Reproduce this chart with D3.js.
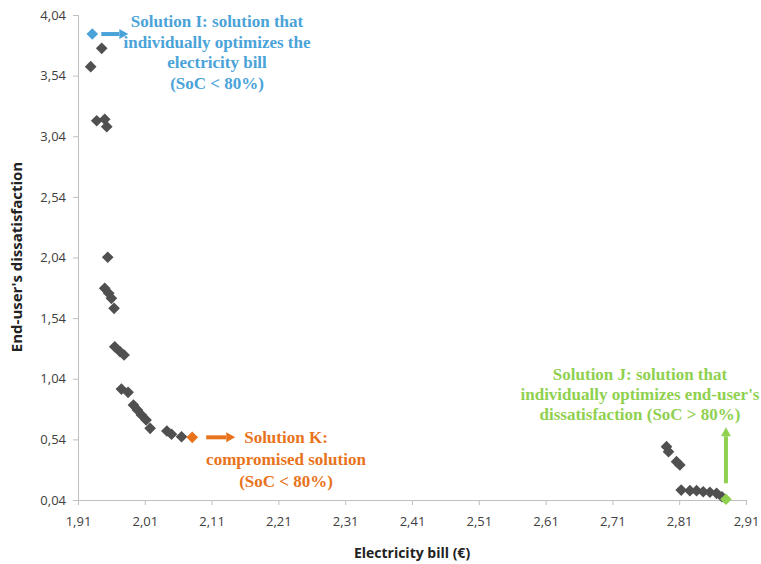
<!DOCTYPE html>
<html>
<head>
<meta charset="utf-8">
<script src="https://cdn.jsdelivr.net/npm/d3@7"></script>
<style>
  body { margin: 0; background: #fff; }
  svg { display: block; }
</style>
</head>
<body>
<svg width="761" height="564"></svg>
<script>
// Pareto front: electricity bill (€) vs end-user's dissatisfaction
const billValues = [1.9455, 1.929, 1.938, 1.950, 1.953, 1.9545, 1.950, 1.956, 1.960, 1.964,
    1.965, 1.973, 1.979, 1.975, 1.985, 1.993, 1.999, 2.005, 2.012, 2.018,
    2.043, 2.050, 2.065,
    2.791, 2.794, 2.806, 2.811, 2.813, 2.826, 2.836, 2.846, 2.856, 2.866, 2.874];
const dissatValues = [3.765, 3.614, 3.168, 3.180, 3.119, 2.042, 1.786, 1.745, 1.703, 1.621,
    1.304, 1.263, 1.236, 0.955, 0.928, 0.823, 0.782, 0.741, 0.700, 0.631,
    0.609, 0.582, 0.562,
    0.480, 0.438, 0.356, 0.329, 0.122, 0.117, 0.117, 0.108, 0.104, 0.095, 0.067];

// highlighted solutions
const solutionNames = ['I', 'K', 'J'];
const solutionBill = [1.9314, 2.081, 2.880];
const solutionDissat = [3.883, 0.557, 0.046];
const solutionColors = ['#4aa3d8', '#e8731c', '#8fd14f'];

const xTicks = [1.91, 2.01, 2.11, 2.21, 2.31, 2.41, 2.51, 2.61, 2.71, 2.81, 2.91];
const yTicks = [0.04, 0.54, 1.04, 1.54, 2.04, 2.54, 3.04, 3.54, 4.04];

const svg = d3.select('svg');
const x = d3.scaleLinear().domain([1.91, 2.91]).range([78, 746]);
const y = d3.scaleLinear().domain([0.04, 4.04]).range([500, 15]);
const fmt = d => d.toFixed(2).replace('.', ',');

// axes
const xAxis = svg.append('g').attr('transform', 'translate(0,500)')
    .call(d3.axisBottom(x).tickValues(xTicks).tickFormat(fmt).tickSize(5).tickPadding(12));
const yAxis = svg.append('g').attr('transform', 'translate(78,0)')
    .call(d3.axisLeft(y).tickValues(yTicks).tickFormat(fmt).tickSize(5).tickPadding(7));
[xAxis, yAxis].forEach(a => {
    a.selectAll('path, line').attr('stroke', '#bfbfbf');
    a.selectAll('text').attr('fill', '#404040')
        .style('font-family', '"Open Sans", sans-serif').style('font-size', '13px');
});

svg.append('text').attr('x', 412).attr('y', 558).attr('text-anchor', 'middle')
    .style('font-family', '"Open Sans", sans-serif').style('font-size', '14px')
    .style('font-weight', 'bold').attr('fill', '#222')
    .text('Electricity bill (€)');
svg.append('text').attr('transform', 'translate(22,257) rotate(-90)').attr('text-anchor', 'middle')
    .style('font-family', '"Open Sans", sans-serif').style('font-size', '15px')
    .style('font-weight', 'bold').attr('fill', '#222')
    .text("End-user's dissatisfaction");

// points
const diamond = d3.symbol(d3.symbolSquare, 68);
svg.append('g').selectAll('path').data(billValues)
    .enter().append('path')
    .attr('d', diamond)
    .attr('fill', '#505050')
    .attr('transform', (d, i) => `translate(${x(d)},${y(dissatValues[i])}) rotate(45)`);

svg.append('g').selectAll('path').data(solutionBill)
    .enter().append('path')
    .attr('d', diamond)
    .attr('fill', (d, i) => solutionColors[i])
    .attr('transform', (d, i) => `translate(${x(d)},${y(solutionDissat[i])}) rotate(45)`);

// arrows
function arrow(x1, y1, x2, y2, color) {
    const a = Math.atan2(y2 - y1, x2 - x1), head = 9, w = 5;
    const bx = x2 - head * Math.cos(a), by = y2 - head * Math.sin(a);
    svg.append('line').attr('x1', x1).attr('y1', y1).attr('x2', bx).attr('y2', by)
        .attr('stroke', color).attr('stroke-width', 4);
    svg.append('path')
        .attr('d', `M${x2},${y2}L${bx - w * Math.sin(a)},${by + w * Math.cos(a)}L${bx + w * Math.sin(a)},${by - w * Math.cos(a)}Z`)
        .attr('fill', color);
}
const sx = solutionBill.map(x), sy = solutionDissat.map(y);
arrow(sx[0] + 9, sy[0], sx[0] + 36, sy[0], solutionColors[0]);
arrow(sx[1] + 14, sy[1], sx[1] + 43, sy[1], solutionColors[1]);
arrow(sx[2], sy[2] - 16, sx[2], sy[2] - 72, solutionColors[2]);

// annotation texts
const notes = [
    {lines: ['Solution I: solution that', 'individually optimizes the', 'electricity bill', '(SoC < 80%)'], cx: 217, cy: 27, step: 20.5},
    {lines: ['Solution K:', 'compromised solution', '(SoC < 80%)'], cx: 286, cy: 443, step: 22},
    {lines: ['Solution J: solution that', "individually optimizes end-user's", 'dissatisfaction (SoC > 80%)'], cx: 640, cy: 380, step: 20}
];
notes.forEach((n, k) => {
    const t = svg.append('text').attr('text-anchor', 'middle')
        .style('font-family', '"Liberation Serif", serif').style('font-size', '17px')
        .style('font-weight', 'bold').attr('fill', solutionColors[k]);
    n.lines.forEach((l, i) => t.append('tspan').attr('x', n.cx).attr('y', n.cy + i * n.step).text(l));
});
</script>
</body>
</html>
